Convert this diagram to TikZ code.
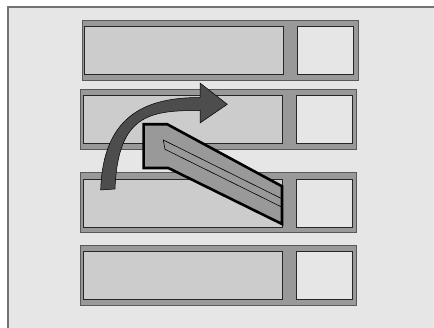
\documentclass[tikz,border=0pt]{standalone}
\usepackage{tikz}
\usetikzlibrary{arrows.meta, positioning, calc}
\usepackage{xcolor}
\definecolor{bggray}{HTML}{E6E6E6}
\definecolor{bargray}{HTML}{999999}
\definecolor{slotgray}{HTML}{CCCCCC}
\definecolor{arrowgray}{HTML}{4D4D4D}

\begin{document}
\begin{tikzpicture}[x=1pt, y=-1pt,
  bar/.style={fill=bargray, draw=black!65, line width=0.8pt},
  slot/.style={fill=slotgray, draw=black!85, line width=0.8pt},
  box/.style={fill=bggray, draw=black!85, line width=0.8pt},
  curvy/.style={fill=arrowgray, draw=black, line width=0.5pt},
  block/.style={fill=bargray, draw=black, line width=2.6pt, line join=miter}]
\useasboundingbox (0,0) rectangle (434,328);
\fill[bggray] (8,7) rectangle (434,328);
\draw[black!55, line width=1.2pt] (8,328) -- (8,7) -- (434,7);
% four rows
\foreach \x/\y in {82/20, 80.7/89, 80.7/172.6, 80.7/245.4} {
  \draw[bar] (\x,\y) rectangle ++(276,60);
  \draw[slot] (\x+2.7,\y+6.5) rectangle ++(198.5,48);
  \draw[box] (\x+215.3,\y+6.5) rectangle ++(56,48);
}
% curved arrow
\draw[curvy] (100.7,190) .. controls (103,112) and (150,97.5) .. (200,97.5)
  -- (200,83) -- (227.3,104.3) -- (200,123) -- (200,110.5)
  .. controls (150,110.5) and (118,114) .. (115,189) -- cycle;
% block arrow
\draw[block] (143.6,124.3) -- (167.3,124.3) -- (282,186.3) -- (282,224)
  -- (168.3,168) -- (143.6,168) -- cycle;
\draw[black, line width=0.6pt] (281,198.3) -- (163.3,140) -- (165,149.3) -- (281,206.7);
\end{tikzpicture}
\end{document}
